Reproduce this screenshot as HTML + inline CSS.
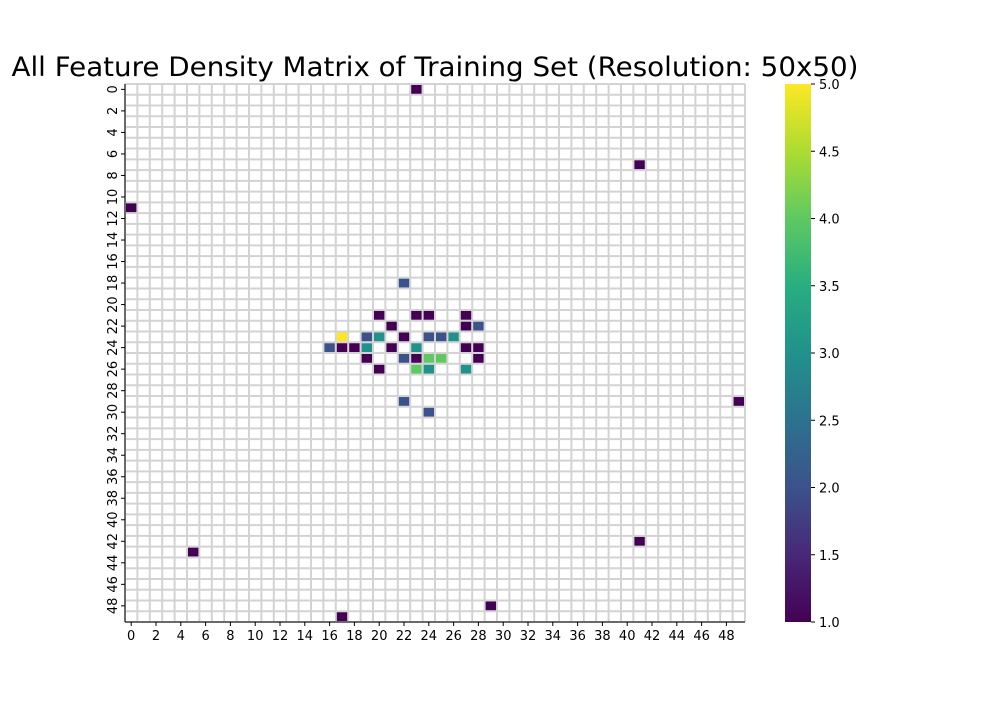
<!DOCTYPE html>
<html><head><meta charset="utf-8"><style>
body{margin:0;background:#fff;}
svg text{font-family:"DejaVu Sans","Liberation Sans",sans-serif;}
</style></head><body>
<svg id="chart" width="1000" height="700" xmlns="http://www.w3.org/2000/svg">
<defs><linearGradient id="vir" x1="0" y1="1" x2="0" y2="0">
<stop offset="0" stop-color="#440154"/><stop offset="0.125" stop-color="#482878"/><stop offset="0.25" stop-color="#3b528b"/><stop offset="0.375" stop-color="#2c728e"/><stop offset="0.5" stop-color="#21918c"/><stop offset="0.625" stop-color="#28ae80"/><stop offset="0.75" stop-color="#5ec962"/><stop offset="0.875" stop-color="#addc30"/><stop offset="1" stop-color="#fde725"/></linearGradient></defs>
<text x="435" y="76" font-size="26.5" text-anchor="middle" textLength="847" lengthAdjust="spacingAndGlyphs">All Feature Density Matrix of Training Set (Resolution: 50x50)</text>
<g id="cells"></g><g id="axes"></g><g id="cbar"></g>
</svg>
<script>
const gridSize = 50;
const cellRows = [0,7,11,18,21,21,21,21,22,22,22,23,23,23,23,23,23,23,24,24,24,24,24,24,24,24,25,25,25,25,25,25,26,26,26,26,29,29,30,42,43,48,49];
const cellCols = [23,41,0,22,20,23,24,27,21,27,28,17,19,20,22,24,25,26,16,17,18,19,21,23,27,28,19,22,23,24,25,28,20,23,24,27,22,49,24,41,5,29,17];
const cellValues = [1,1,1,2,1,1,1,1,1,1,2,5,2,3,1,2,2,3,2,1,1,3,1,3,1,1,1,2,1,4,4,1,1,4,3,3,2,1,2,1,1,1,1];
const colorTicks = [1.0,1.5,2.0,2.5,3.0,3.5,4.0,4.5,5.0];
const vmin = 1, vmax = 5;
const X0=125,X1=745,Y0=84,Y1=622;
const cw=(X1-X0)/gridSize, ch=(Y1-Y0)/gridSize;
const xs=c=>X0+c*cw, ys=r=>Y0+r*ch;
const NS="http://www.w3.org/2000/svg";
function mk(t,a,p){const e=document.createElementNS(NS,t);for(const k in a)e.setAttribute(k,a[k]);p.appendChild(e);return e;}
const stops=[[0,[68,1,84]],[0.125,[72,40,120]],[0.25,[59,82,139]],[0.375,[44,114,142]],[0.5,[33,145,140]],[0.625,[40,174,128]],[0.75,[94,201,98]],[0.875,[173,220,48]],[1,[253,231,37]]];
function vir(v){let t=(v-vmin)/(vmax-vmin);t=Math.max(0,Math.min(1,t));for(let i=1;i<stops.length;i++){if(t<=stops[i][0]){const a=stops[i-1],b=stops[i];const f=(t-a[0])/(b[0]-a[0]);const c=a[1].map((x,j)=>Math.round(x+(b[1][j]-x)*f));return`rgb(${c})`;}}return"#fde725";}
const cg=document.getElementById('cells');
mk('rect',{x:X0,y:Y0,width:X1-X0,height:Y1-Y0,fill:'#fff'},cg);
for(let i=0;i<=gridSize;i++){
  mk('line',{x1:xs(i),x2:xs(i),y1:Y0,y2:Y1,stroke:'#d3d3d3','stroke-width':2},cg);
  mk('line',{x1:X0,x2:X1,y1:ys(i),y2:ys(i),stroke:'#d3d3d3','stroke-width':2},cg);
}
cellValues.forEach((v,i)=>{
  const r=mk('rect',{x:xs(cellCols[i])+1,y:ys(cellRows[i])+1,width:cw-2,height:ch-2,fill:vir(v)},cg);
  
  
});
const ag=document.getElementById('axes');
mk('line',{x1:X0,x2:X0,y1:Y0,y2:Y1,stroke:'#000','stroke-width':1},ag);
mk('line',{x1:X0,x2:X1,y1:Y1,y2:Y1,stroke:'#000','stroke-width':1},ag);
for(let i=0;i<gridSize;i+=2){
  const cx=xs(i+0.5), cy=ys(i+0.5);
  mk('line',{x1:cx,x2:cx,y1:Y1,y2:Y1+4,stroke:'#000'},ag);
  const tx=mk('text',{x:cx,y:Y1+18,'font-size':13,'text-anchor':'middle'},ag);tx.textContent=i;
  
  
  mk('line',{x1:X0-4,x2:X0,y1:cy,y2:cy,stroke:'#000'},ag);
  const ty=mk('text',{x:0,y:0,'font-size':13,'text-anchor':'middle',transform:`translate(${X0-8},${cy}) rotate(-90)`},ag);ty.textContent=i;
  
  
}
const cb=document.getElementById('cbar');
const CX=785,CW=26;
const cbr=mk('rect',{x:CX,y:Y0,width:CW,height:Y1-Y0,fill:'url(#vir)'},cb);


const cy2=v=>Y1-(v-vmin)/(vmax-vmin)*(Y1-Y0);
colorTicks.forEach(v=>{
  mk('line',{x1:CX+CW,x2:CX+CW+4,y1:cy2(v),y2:cy2(v),stroke:'#000'},cb);
  const t=mk('text',{x:CX+CW+8,y:cy2(v)+5,'font-size':13},cb);t.textContent=v.toFixed(1);
  
  
});
</script>
</body></html>
